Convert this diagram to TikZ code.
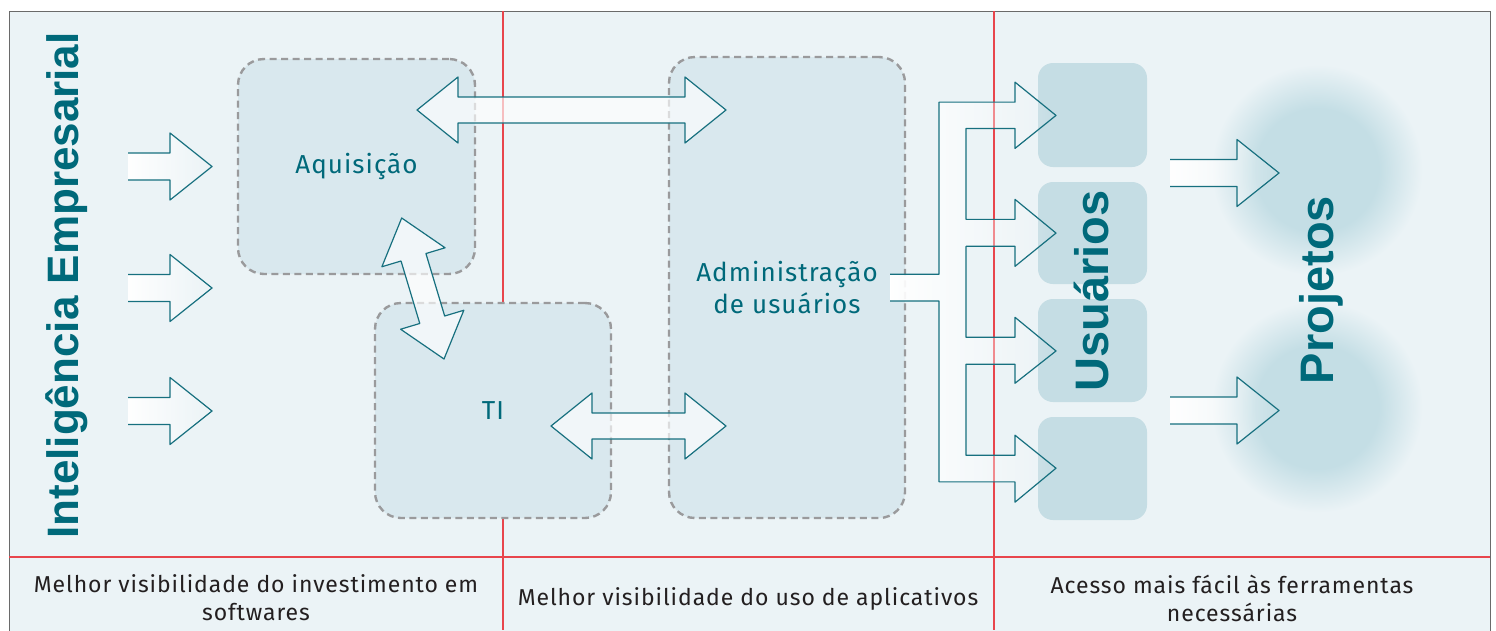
\documentclass[tikz,border=0pt]{standalone}
\usepackage{fontspec}
\setmainfont{Fira Sans}
\newfontfamily\txtf{Fira Sans}[LetterSpace=4]
\newfontfamily\arialf{Liberation Sans}
\usetikzlibrary{calc,fadings}
\definecolor{bgc}{HTML}{EBF3F6}
\definecolor{boxc}{HTML}{D9E8EE}
\definecolor{ubc}{HTML}{C5DDE4}
\definecolor{blobc}{HTML}{C4DEE5}
\definecolor{tealc}{HTML}{00697A}
\definecolor{arrc}{HTML}{17707F}
\definecolor{dashc}{HTML}{9A9A9C}
\definecolor{redc}{HTML}{E8454C}
\definecolor{framec}{HTML}{6A6A6A}
\definecolor{txtc}{HTML}{231F20}
\pgfdeclareradialshading{blob}{\pgfpointorigin}{color(0bp)=(blobc); color(14bp)=(blobc); color(24bp)=(bgc); color(50bp)=(bgc)}
\begin{tikzfadingfrompicture}[name=qf]
\fill[transparent!0] (-38bp,-50bp) rectangle (50bp,50bp);
\shade[left color=transparent!100, right color=transparent!0] (-50bp,-50bp) rectangle (-38bp,50bp);
\end{tikzfadingfrompicture}
\tikzset{
  dbox/.style={draw=dashc, line width=2.4pt, dash pattern=on 7pt off 4.5pt, fill=boxc,
    rounded corners=26pt, inner sep=0pt, text=tealc, font=\txtf\fontsize{26}{31.5}\selectfont, align=center},
  ubox/.style={fill=ubc, rounded corners=15pt, inner sep=0pt, minimum width=109pt},
  rline/.style={draw=redc, line width=1.2pt},
  arrline/.style={draw=arrc, line width=1.2pt, line join=round},
  dblarr/.style={draw=arrc, line width=1.2pt, fill=white, fill opacity=0.65, line join=round},
  btxt/.style={text=txtc, font=\txtf\fontsize{23}{28}\selectfont, align=center, inner sep=0pt},
  vtxt/.style={text=tealc, rotate=90, anchor=base, inner sep=0pt},
}
% single block arrow: x start, x tip, y centre
\newcommand\blockarr[3]{%
  \fill[white, path fading=east] (#1,#3-13.5) -- (#2-42,#3-13.5) -- (#2-42,#3-33.5) -- (#2,#3)
     -- (#2-42,#3+33.5) -- (#2-42,#3+13.5) -- (#1,#3+13.5) -- cycle;
  \draw[arrline, path fading=qf] (#1,#3-13.5) -- (#2-42,#3-13.5) -- (#2-42,#3-33.5) -- (#2,#3)
     -- (#2-42,#3+33.5) -- (#2-42,#3+13.5) -- (#1,#3+13.5);
}
% double block arrow between two named coordinates
\newcommand\dblarrow[2]{%
  \coordinate (h1) at ($(#1)!41pt!(#2)$);
  \coordinate (h2) at ($(#2)!41pt!(#1)$);
  \draw[dblarr] (#1) -- ($(h1)!33pt!90:(#2)$) -- ($(h1)!13pt!90:(#2)$) -- ($(h2)!13pt!-90:(#1)$)
    -- ($(h2)!33pt!-90:(#1)$) -- (#2) -- ($(h2)!33pt!90:(#1)$) -- ($(h2)!13pt!90:(#1)$)
    -- ($(h1)!13pt!-90:(#2)$) -- ($(h1)!33pt!-90:(#2)$) -- cycle;
}
\begin{document}
\begin{tikzpicture}[x=1pt,y=-1pt]
\useasboundingbox (0,0) rectangle (1496,630);
\fill[white] (0,0) rectangle (1496,630);
\filldraw[fill=bgc, draw=framec, line width=1pt] (9,11) rectangle (1490,645);
% red grid lines
\draw[rline] (503,11) -- (503,630);
\draw[rline] (994,11) -- (994,630);
\draw[rline] (9,557) -- (1490,557);
% blobs behind Projetos
\shade[shading=blob] (1317,170) circle (110pt);
\shade[shading=blob] (1317,407) circle (110pt);
% dashed boxes
\node[dbox, minimum width=237pt, minimum height=215pt] (aq) at (356.5,166.5) {Aquisição};
\node[dbox, minimum width=236pt, minimum height=215pt] (ti) at (493,410.5) {TI};
\node[dbox, minimum width=236pt, minimum height=461pt] (ad) at (787,287.5) {Administração\\de usuários};
% user boxes
\node[ubox, minimum height=104pt] (u1) at (1092.5,115) {};
\node[ubox, minimum height=102pt] (u2) at (1092.5,233) {};
\node[ubox, minimum height=103pt] (u3) at (1092.5,350.5) {};
\node[ubox, minimum height=103pt] (u4) at (1092.5,468.5) {};
% vertical titles
\node[vtxt, font=\arialf\bfseries\fontsize{44}{44}\selectfont] (ie) at (78,285.5) {Inteligência Empresarial};
\node[vtxt, font=\arialf\bfseries\fontsize{47}{47}\selectfont] (us) at (1108,291) {Usuários};
\node[vtxt, font=\arialf\bfseries\fontsize{47}{47}\selectfont] (pj) at (1333,290) {Projetos};
% bottom texts
\node[btxt] (b1) at (256,598) {Melhor visibilidade do investimento em\\softwares};
\node[btxt] (b2) at (748,599) {Melhor visibilidade do uso de aplicativos};
\node[btxt] (b3) at (1232,598) {Acesso mais fácil às ferramentas\\necessárias};
% left arrows
\blockarr{128}{212}{166.5}
\blockarr{128}{212}{288}
\blockarr{128}{212}{411}
% arrows to Projetos
\blockarr{1170}{1279}{173}
\blockarr{1170}{1279}{410.5}
% tree arrow from Administração to the user boxes
\fill[white, path fading=east] (890,274) -- (939,274) -- (939,101.7) -- (1015,101.7) -- (1015,81.7) -- (1056,115)
  -- (1015,148) -- (1015,128) -- (966,128) -- (966,219) -- (1015,219) -- (1015,199) -- (1056,232.7)
  -- (1015,266) -- (1015,246) -- (966,246) -- (966,337) -- (1015,337) -- (1015,317) -- (1056,350.7)
  -- (1015,383) -- (1015,364) -- (966,364) -- (966,455) -- (1015,455) -- (1015,435) -- (1056,468)
  -- (1015,502) -- (1015,481.7) -- (939,481.7) -- (939,300.7) -- (890,300.7) -- cycle;
\draw[arrline, path fading=qf] (890,274) -- (939,274) -- (939,101.7) -- (1015,101.7) -- (1015,81.7) -- (1056,115)
  -- (1015,148) -- (1015,128) -- (966,128) -- (966,219) -- (1015,219) -- (1015,199) -- (1056,232.7)
  -- (1015,266) -- (1015,246) -- (966,246) -- (966,337) -- (1015,337) -- (1015,317) -- (1056,350.7)
  -- (1015,383) -- (1015,364) -- (966,364) -- (966,455) -- (1015,455) -- (1015,435) -- (1056,468)
  -- (1015,502) -- (1015,481.7) -- (939,481.7) -- (939,300.7) -- (890,300.7);
% double arrows
\coordinate (ta) at (417,110);
\coordinate (tb) at (726,110);
\coordinate (ma) at (401.7,218);
\coordinate (mb) at (444,359);
\coordinate (la) at (551,426);
\coordinate (lb) at (726,426);
\dblarrow{ta}{tb}
\dblarrow{ma}{mb}
\dblarrow{la}{lb}
\end{tikzpicture}
\end{document}
